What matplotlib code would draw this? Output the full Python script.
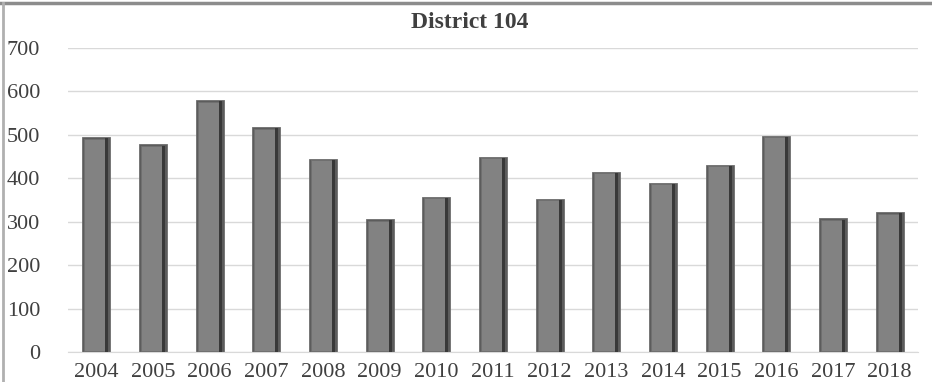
import matplotlib
matplotlib.use("Agg")
import matplotlib.pyplot as plt
import numpy as np
from matplotlib.lines import Line2D

years = ["2004", "2005", "2006", "2007", "2008", "2009", "2010", "2011",
         "2012", "2013", "2014", "2015", "2016", "2017", "2018"]
values = [495, 478, 580, 518, 445, 306, 358, 450, 353, 415, 390, 431, 498, 308, 322]
yticks = [0, 100, 200, 300, 400, 500, 600, 700]
title = "District 104"

plt.rcParams['font.family'] = ['Liberation Serif', 'DejaVu Serif']

fig = plt.figure(figsize=(9.32, 3.82), dpi=100)
ax = fig.add_axes([68/932, 1-352/382, (918-68)/932, (352-48)/382])

x = np.arange(len(years))
v = np.array(values)
w = 0.49
# bevelled bar look: dark outer, light face, dark strip on the right
ax.bar(x, v, width=w, color="#5c5c5c", edgecolor="#6e6e6e", linewidth=0.6, zorder=2)
ax.bar(x - 0.025, v - 5, width=0.37, bottom=1.5, color="#828282",
       edgecolor="#707070", linewidth=0.6, zorder=3)
ax.bar(x + 0.185, v - 4, width=0.05, bottom=1, color="#383838",
       linewidth=0, zorder=3)

ax.set_xlim(-0.5, len(years) - 0.5)
ax.set_ylim(0, 700)
ax.set_yticks(yticks)
ax.set_xticks(x)
ax.set_xticklabels(years)
ax.tick_params(axis='both', length=0, labelsize=16, labelcolor="#404040")
ax.tick_params(axis='y', pad=20)
ax.tick_params(axis='x', pad=8)
ax.grid(axis='y', color="#d9d9d9", linewidth=1.0, zorder=0)
ax.set_axisbelow(True)
for s in ['top', 'right', 'left']:
    ax.spines[s].set_visible(False)
ax.spines['bottom'].set_color("#d9d9d9")

fig.text(470/932, 1-22/382, title, ha='center', va='center', fontsize=17,
         fontweight='bold', color="#404040")

# outer frame lines (top and left border of the chart image)
fig.add_artist(Line2D([0, 1], [1-3/382, 1-3/382], transform=fig.transFigure,
                      color="#8c8c8c", linewidth=2.5))
fig.add_artist(Line2D([3/932, 3/932], [0, 1-3/382], transform=fig.transFigure,
                      color="#b0b0b0", linewidth=2))

fig.savefig("out.png", dpi=100)
